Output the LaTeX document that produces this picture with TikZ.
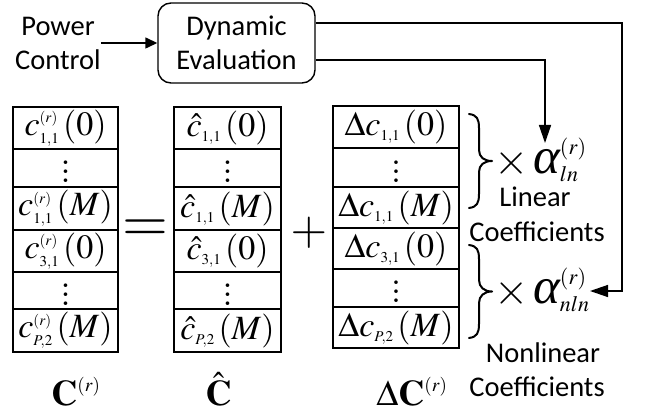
\documentclass[tikz,border=0pt]{standalone}
\usepackage{mathptmx}
\usepackage[no-math]{fontspec}
\newfontfamily\calib{Carlito}
\newfontfamily\tnr{Liberation Serif}
\usetikzlibrary{arrows.meta}
\DeclareMathSizes{34}{34}{15}{11}
\DeclareMathSizes{36}{36}{19}{14}
\DeclareMathSizes{40}{40}{22}{15}
\newcommand\myvdots{\vbox{\baselineskip=9pt\lineskiplimit=0pt\hbox{$.$}\hbox{$.$}\hbox{$.$}}}
\newcommand\bigalpha{\hbox{\tnr\itshape\fontsize{51}{51}\selectfont α}}
\begin{document}
\begin{tikzpicture}[x=1pt,y=-1pt,
  txt/.style={font=\calib\fontsize{28.5}{34}\selectfont, align=center, inner sep=0pt},
  gridln/.style={line width=1.4pt},
  celltxt/.style={font=\fontsize{34}{40}\selectfont, inner sep=0pt},
  dots/.style={font=\fontsize{34}{40}\selectfont, inner sep=0pt, yshift=-4pt},
  lbl/.style={font=\fontsize{36}{40}\selectfont, anchor=base, inner sep=0pt},
  coef/.style={font=\fontsize{40}{44}\selectfont, anchor=west, inner sep=0pt},
  timesx/.style={font=\fontsize{44}{44}\selectfont, inner sep=0pt},
  bracepath/.style={line width=2pt, line cap=round, line join=round},
  wire/.style={line width=1.4pt},
  bigtip/.style={wire, -{Triangle[length=18pt,width=12pt]}},
  smalltip/.style={wire, -{Triangle[length=12pt,width=11pt]}}]
\useasboundingbox (0,0) rectangle (645,417);

% top
\node[txt] (pc) at (58,43) {Power\\Control};
\node[txt, draw, rounded corners=13pt, line width=1.4pt, minimum width=157pt, minimum height=80pt] (de) at (236.5,43) {Dynamic\\Evaluation};
\draw[smalltip] (pc.east) -- (de.west);

% grids
\draw[gridln] (13,107) rectangle (118,352);
\foreach \y in {149,187,230,272,309} \draw[gridln] (13,\y) -- (118,\y);
\draw[gridln] (174,107) rectangle (281,352);
\foreach \y in {149,187,230,272,309} \draw[gridln] (174,\y) -- (281,\y);
\draw[gridln] (333,106) rectangle (459,348);
\foreach \y in {148,187,228,269,307} \draw[gridln] (333,\y) -- (459,\y);

% column 1
\node[celltxt] (a1) at (65.5,128) {$c^{(r)}_{1,1}\,(0)$};
\node[dots] (a2) at (65.5,168) {\myvdots};
\node[celltxt] (a3) at (65.5,208.5) {$c^{(r)}_{1,1}\,(M)$};
\node[celltxt] (a4) at (65.5,251) {$c^{(r)}_{3,1}\,(0)$};
\node[dots] (a5) at (65.5,290.5) {\myvdots};
\node[celltxt] (a6) at (65.5,330.5) {$c^{(r)}_{P,2}\,(M)$};

% column 2
\node[celltxt] (b1) at (227.5,128) {$\hat{c}_{1,1}\,(0)$};
\node[dots] (b2) at (227.5,168) {\myvdots};
\node[celltxt] (b3) at (227.5,208.5) {$\hat{c}_{1,1}\,(M)$};
\node[celltxt] (b4) at (227.5,251) {$\hat{c}_{3,1}\,(0)$};
\node[dots] (b5) at (227.5,290.5) {\myvdots};
\node[celltxt] (b6) at (227.5,330.5) {$\hat{c}_{P,2}\,(M)$};

% column 3
\node[celltxt] (c1) at (396,127) {$\Delta c_{1,1}\,(0)$};
\node[dots] (c2) at (396,167.5) {\myvdots};
\node[celltxt] (c3) at (396,207.5) {$\Delta c_{1,1}\,(M)$};
\node[celltxt] (c4) at (396,248.5) {$\Delta c_{3,1}\,(0)$};
\node[dots] (c5) at (396,288) {\myvdots};
\node[celltxt] (c6) at (396,327.5) {$\Delta c_{P,2}\,(M)$};

% operators
\node[font=\fontsize{59}{59}\selectfont, inner sep=0pt] (eq) at (145,230.5) {$=$};
\node[font=\fontsize{47}{47}\selectfont, inner sep=0pt] (pl) at (309,233) {$+$};

% braces
\draw[bracepath] (469,114) .. controls (477,115) and (479,119) .. (479,128)
  -- (479,150) .. controls (479,157) and (484,161) .. (492,161)
  .. controls (484,161) and (479,165) .. (479,172)
  -- (479,194) .. controls (479,203) and (477,207) .. (469,208);
\draw[bracepath] (469,245) .. controls (477,246) and (479,250) .. (479,259)
  -- (479,280) .. controls (479,287) and (484,291.5) .. (492,291.5)
  .. controls (484,291.5) and (479,296) .. (479,303)
  -- (479,324) .. controls (479,333) and (477,337) .. (469,338);

% coefficients
\node[timesx] (x1) at (512,163) {$\times$};
\node[timesx] (x2) at (512,293) {$\times$};
\node[coef] (aln) at (533,160) {$\bigalpha^{(r)}_{ln}$};
\node[coef] (anl) at (533,290) {$\bigalpha^{(r)}_{nln}$};
\node[txt] (lin) at (535,197) {Linear};
\node[txt] (lco) at (537,232) {Coefficients};
\node[txt] (nlin) at (543,353) {Nonlinear};
\node[txt] (nco) at (537,387) {Coefficients};

% labels
\node[lbl] (la) at (76,405) {$\mathbf{C}^{(r)}$};
\node[lbl] (lb) at (218.5,405) {$\hat{\mathbf{C}}$};
\node[lbl] (lc) at (412,405) {$\Delta\mathbf{C}^{(r)}$};

% connectors
\coordinate (tip1) at (545,143);
\coordinate (rt) at (622,23);
\coordinate (tip2) at (590,291);
\draw[bigtip] ([yshift=-17pt]de.east) -| (tip1);
\draw[bigtip] ([yshift=20pt]de.east) -- (rt) -- (rt |- tip2) -- (tip2);
\end{tikzpicture}
\end{document}
